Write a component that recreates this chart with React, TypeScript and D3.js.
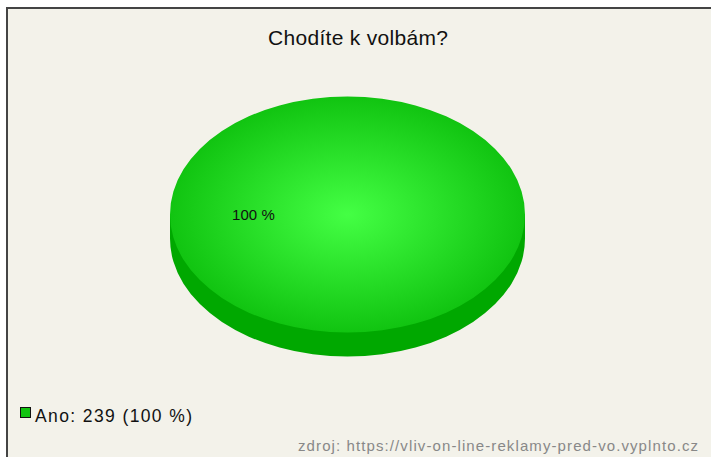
import React from "react";
import * as d3 from "d3";

const title = "Chodíte k volbám?";
const categories = ["Ano"];
const values = [239];
const colors = ["#11c411"];
const source = "zdroj: https://vliv-on-line-reklamy-pred-vo.vyplnto.cz";

export default function App() {
  const W = 711, H = 457;
  const cx = 347.5, cy = 214.5, rx = 177.5, ry = 118, depth = 24;
  const total = d3.sum(values);
  const pie = d3.pie<number>().sort(null).startAngle(Math.PI / 2).endAngle(Math.PI * 2.5);
  const arcs = pie(values);
  const arc = d3.arc<d3.PieArcDatum<number>>().innerRadius(0).outerRadius(rx);
  const labelArc = d3.arc<d3.PieArcDatum<number>>().innerRadius(rx * 1.06).outerRadius(0);
  const sy = ry / rx;
  const fmtPct = (v: number) => `${Math.round((v / total) * 100)} %`;
  const font = "Liberation Sans, Arial, sans-serif";
  return (
    <svg width={W} height={H} style={{ position: "absolute", left: 0, top: 0 }}>
      <defs>
        <radialGradient id="g0" cx="50%" cy="50%" r="50%">
          <stop offset="0%" stopColor="#44ff44" />
          <stop offset="100%" stopColor="#11c411" />
        </radialGradient>
      </defs>
      <rect x={0} y={0} width={W} height={H} fill="#ffffff" />
      <rect x={7} y={8} width={W} height={H} fill="#f3f2ea" stroke="#444" strokeWidth={2} />
      <text x={358} y={45} textAnchor="middle" fontFamily={font} fontSize={21} textLength={180} lengthAdjust="spacing" fill="#111">{title}</text>
      <g transform={`translate(${cx},${cy + depth}) scale(1,${sy})`}>
        {arcs.map((a, i) => <path key={i} d={arc(a) || ""} fill="#00a800" />)}
      </g>
      <rect x={cx - rx} y={cy} width={rx * 2} height={depth} fill="#00a800" />
      <g transform={`translate(${cx},${cy}) scale(1,${sy})`}>
        {arcs.map((a, i) => <path key={i} d={arc(a) || ""} fill={`url(#g${i})`} />)}
      </g>
      {arcs.map((a, i) => {
        const [lx, ly] = labelArc.centroid(a);
        return (
          <text key={i} x={cx + lx} y={cy + ly * sy + 5} textAnchor="middle" fontFamily={font} fontSize={15} textLength={43} lengthAdjust="spacing" fill="#111">{fmtPct(values[i])}</text>
        );
      })}
      {categories.map((c, i) => (
        <g key={c}>
          <rect x={20.5} y={407.5} width={10} height={10} fill={colors[i]} stroke="#111" strokeWidth={1} />
          <text x={35} y={422} fontFamily={font} fontSize={17.5} textLength={157} lengthAdjust="spacing" fill="#111">{`${c}: ${values[i]} (${fmtPct(values[i])})`}</text>
        </g>
      ))}
      <text x={698} y={451} textAnchor="end" fontFamily={font} fontSize={15} textLength={400} lengthAdjust="spacing" fill="#888">{source}</text>
    </svg>
  );
}
